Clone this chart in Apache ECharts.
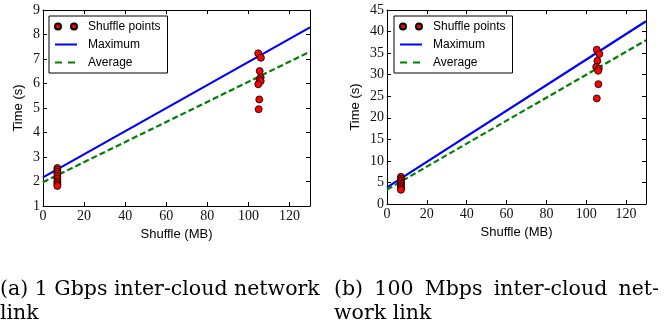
<!DOCTYPE html>
<html><head><meta charset="utf-8">
<script src="https://cdn.jsdelivr.net/npm/echarts@6/dist/echarts.min.js"></script>
<style>html,body{margin:0;padding:0;background:#fff}#c{width:668px;height:328px}</style>
</head><body><div id="c"></div>
<script>
// ---- data ----
const seriesNames = ['Shuffle points', 'Maximum', 'Average'];
const xRange = [0, 130];
const xInterval = 20;
const yRangeA = [1, 9];
const yIntervalA = 1;
const yRangeB = [0, 45];
const yIntervalB = 5;
const xLabel = 'Shuffle (MB)';
const yLabel = 'Time (s)';

// (a) 1 Gbps
const pointsA = [
  [7, 2.55], [7, 2.48], [7, 2.40], [7, 2.32], [7, 2.22], [7, 2.12], [7, 2.02], [7, 1.95], [7, 1.88], [7, 1.82],
  [104.8, 7.23], [106.1, 7.05], [105.5, 6.51], [106.0, 6.25], [105.5, 6.17], [106.0, 6.10], [104.8, 5.97], [105.3, 5.35], [105.0, 4.95]
];
const maxLineA = [[0, 2.17], [130, 8.29]];
const avgLineA = [[0, 1.97], [130, 7.30]];

// (b) 100 Mbps
const pointsB = [
  [7, 6.3], [7, 5.9], [7, 5.5], [7, 5.1], [7, 4.7], [7, 4.3], [7, 3.9], [7, 3.5], [7, 3.3],
  [105.3, 35.8], [106.6, 34.8], [105.6, 33.2], [105.0, 31.8], [106.3, 31.4], [106.0, 30.9], [106.1, 27.8], [105.3, 24.5]
];
const maxLineB = [[0, 3.87], [130, 42.4]];
const avgLineB = [[0, 3.33], [130, 38.0]];

const captionA = ['(a) 1 Gbps inter-cloud network', 'link'];
const captionB1 = ['(b)', '100', 'Mbps', 'inter-cloud', 'net-'];
const captionB2 = 'work link';

// ---- styling ----
const RED = '#ff0000', BLUE = '#0000ff', GREEN = '#008000';
const tickFont = { fontFamily: 'Liberation Serif', fontSize: 14, color: '#111' };
const sansFont = 'Liberation Sans';

function xAx(gi, pos, show) {
  return {
    type: 'value', gridIndex: gi, position: pos, min: xRange[0], max: xRange[1], interval: xInterval,
    axisLine: { show: true, onZero: false, lineStyle: { color: '#000', width: 1 } },
    axisTick: { show: true, inside: true, length: 4, lineStyle: { color: '#000' } },
    axisLabel: show ? Object.assign({ show: true, margin: 3 }, tickFont) : { show: false },
    splitLine: { show: false },
    name: show ? xLabel : '', nameLocation: 'middle', nameGap: 20,
    nameTextStyle: { fontFamily: sansFont, fontSize: 13, color: '#000' }
  };
}
function yAx(gi, pos, show, range, interval, gap) {
  return {
    type: 'value', gridIndex: gi, position: pos, min: range[0], max: range[1], interval: interval,
    axisLine: { show: true, onZero: false, lineStyle: { color: '#000', width: 1 } },
    axisTick: { show: true, inside: true, length: 4, lineStyle: { color: '#000' } },
    axisLabel: show ? Object.assign({ show: true, margin: 3 }, tickFont) : { show: false },
    splitLine: { show: false },
    name: show ? yLabel : '', nameLocation: 'middle', nameGap: gap, nameRotate: 90,
    nameTextStyle: { fontFamily: sansFont, fontSize: 13, color: '#000' }
  };
}

function mkSeries(xi, yi, pts, mx, av) {
  return [
    { name: seriesNames[0], type: 'scatter', xAxisIndex: xi, yAxisIndex: yi, data: pts, symbol: 'circle', symbolSize: 7,
      itemStyle: { color: RED, borderColor: '#000', borderWidth: 0.8, opacity: 1 }, z: 5, silent: true },
    { name: seriesNames[1], type: 'line', xAxisIndex: xi, yAxisIndex: yi, data: mx, showSymbol: false, symbol: 'none', color: BLUE,
      lineStyle: { color: BLUE, width: 2.2 }, z: 3, silent: true },
    { name: seriesNames[2], type: 'line', xAxisIndex: xi, yAxisIndex: yi, data: av, showSymbol: false, symbol: 'none', color: GREEN,
      lineStyle: { color: GREEN, width: 2.2, type: [6, 3] }, z: 3, silent: true }
  ];
}

const dotsIcon = 'path://M0,3a3,3 0 1,0 6,0a3,3 0 1,0 -6,0Z M16,3a3,3 0 1,0 6,0a3,3 0 1,0 -6,0Z';
function mkLegend(left) {
  return {
    left: left, top: 16, orient: 'vertical', selectedMode: false,
    backgroundColor: '#fff', borderColor: '#000', borderWidth: 1, borderRadius: 0,
    padding: [4, 7, 4, 5], itemGap: 5, itemWidth: 22, itemHeight: 6,
    textStyle: { fontFamily: sansFont, fontSize: 12, color: '#000', padding: [0, 0, 0, 6], lineHeight: 13 },
    data: [
      { name: seriesNames[0], icon: dotsIcon },
      { name: seriesNames[1], itemStyle: { opacity: 0 }, lineStyle: { color: BLUE, width: 2 } },
      { name: seriesNames[2], itemStyle: { opacity: 0 }, lineStyle: { color: GREEN, width: 2, type: [7, 6] } }
    ]
  };
}

// caption layout (justified first line of (b))
const capSize = 20.5, capFam = 'DejaVu Serif';
const capFont = { fontFamily: capFam, fontSize: capSize, fill: '#000' };
const mctx = document.createElement('canvas').getContext('2d');
mctx.font = capSize + 'px "' + capFam + '"';
const wordW = captionB1.map(w => mctx.measureText(w).width);
const bLeft = 334, bRight = 659;
const gapW = (bRight - bLeft - wordW.reduce((a, b) => a + b, 0)) / (captionB1.length - 1);
const graphics = [
  { type: 'text', left: 0, top: 279, style: Object.assign({ text: captionA[0] }, capFont) },
  { type: 'text', left: 0, top: 303, style: Object.assign({ text: captionA[1] }, capFont) },
  { type: 'text', left: bLeft, top: 303, style: Object.assign({ text: captionB2 }, capFont) }
];
let cx = bLeft;
captionB1.forEach((w, i) => {
  graphics.push({ type: 'text', x: cx, y: 279, style: Object.assign({ text: w }, capFont) });
  cx += wordW[i] + gapW;
});

const chart = echarts.init(document.getElementById('c'), null, { renderer: 'canvas' });
chart.setOption({
  animation: false,
  backgroundColor: '#fff',
  grid: [
    { left: 43, right: 358, top: 10, bottom: 122 },
    { left: 387, right: 22, top: 10, bottom: 124 }
  ],
  xAxis: [xAx(0, 'bottom', true), xAx(0, 'top', false), xAx(1, 'bottom', true), xAx(1, 'top', false)],
  yAxis: [
    yAx(0, 'left', true, yRangeA, yIntervalA, 18), yAx(0, 'right', false, yRangeA, yIntervalA, 0),
    yAx(1, 'left', true, yRangeB, yIntervalB, 25), yAx(1, 'right', false, yRangeB, yIntervalB, 0)
  ],
  legend: [mkLegend(49), mkLegend(394)],
  series: mkSeries(0, 0, pointsA, maxLineA, avgLineA).concat(mkSeries(2, 2, pointsB, maxLineB, avgLineB)),
  graphic: graphics
});
</script></body></html>
